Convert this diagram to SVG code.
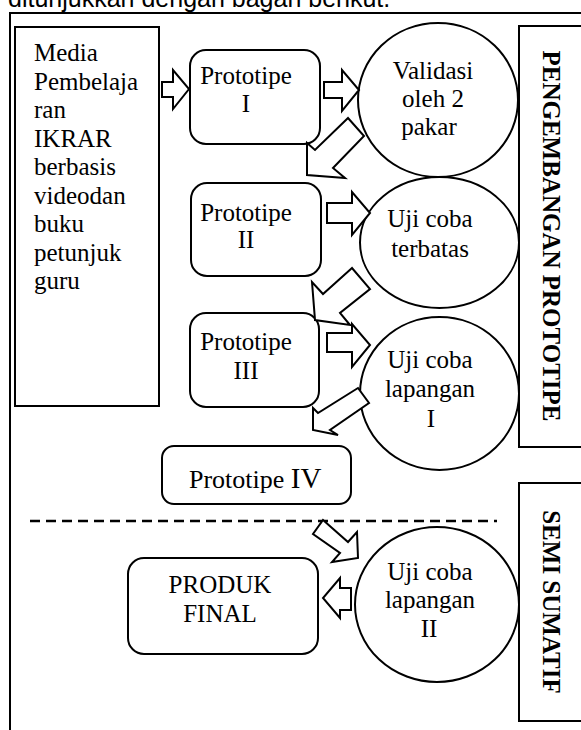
<svg xmlns="http://www.w3.org/2000/svg" width="581" height="730" viewBox="0 0 581 730">
<style>
.b{fill:#fff;stroke:#000;stroke-width:2}
.t{font-family:"Liberation Serif","Times New Roman",serif;font-size:25px;fill:#000}
.c{text-anchor:middle}
.v{font-family:"Liberation Serif","Times New Roman",serif;font-size:25px;font-weight:bold;fill:#000;text-anchor:middle}
.a{fill:#fff;stroke:#000;stroke-width:2;stroke-linejoin:miter}
</style>
<rect width="581" height="730" fill="#fff"/>
<text x="8" y="7" style="font-family:'Liberation Sans',Arial,sans-serif;font-size:25px">ditunjukkan dengan bagan berikut.</text>
<path d="M10,730 V13 H581" fill="none" stroke="#000" stroke-width="2"/>
<g id="media">
<rect class="b" x="15" y="27" width="144" height="379"/>
<text class="t" x="34" y="61">Media</text>
<text class="t" x="34" y="89.5">Pembelaja</text>
<text class="t" x="34" y="118">ran</text>
<text class="t" x="34" y="146.5">IKRAR</text>
<text class="t" x="34" y="175">berbasis</text>
<text class="t" x="34" y="203.5">videodan</text>
<text class="t" x="34" y="232">buku</text>
<text class="t" x="34" y="260.5">petunjuk</text>
<text class="t" x="34" y="289">guru</text>
</g>
<g id="proto1">
<rect class="b" x="190" y="50" width="130" height="94" rx="16"/>
<text class="t c" x="246" y="84">Prototipe</text>
<text class="t c" x="246" y="112">I</text>
</g>
<g id="proto2">
<rect class="b" x="191" y="183" width="130" height="93" rx="16"/>
<text class="t c" x="246" y="221">Prototipe</text>
<text class="t c" x="246" y="248">II</text>
</g>
<g id="proto3">
<rect class="b" x="190" y="313" width="129" height="94" rx="16"/>
<text class="t c" x="246" y="350">Prototipe</text>
<text class="t c" x="246" y="379">III</text>
</g>
<g id="proto4">
<rect class="b" x="162" y="446" width="189" height="58" rx="12"/>
<text class="t" x="189" y="488" style="font-size:26px">Prototipe <tspan style="font-size:29px">IV</tspan></text>
</g>
<g id="validasi">
<ellipse class="b" cx="438" cy="100" rx="80" ry="77"/>
<text class="t c" x="433" y="79">Validasi</text>
<text class="t c" x="433" y="107">oleh 2</text>
<text class="t c" x="429" y="135">pakar</text>
</g>
<g id="terbatas">
<ellipse class="b" cx="439.5" cy="242.5" rx="79.5" ry="65.5"/>
<text class="t c" x="430" y="227">Uji coba</text>
<text class="t c" x="430" y="257">terbatas</text>
</g>
<g id="lapangan1">
<ellipse class="b" cx="439.5" cy="393.5" rx="79.5" ry="76.5"/>
<text class="t c" x="430" y="368">Uji coba</text>
<text class="t c" x="430" y="397">lapangan</text>
<text class="t c" x="431" y="427">I</text>
</g>
<g id="lapangan2">
<ellipse class="b" cx="437" cy="604.5" rx="82" ry="77.5"/>
<text class="t c" x="430" y="580">Uji coba</text>
<text class="t c" x="430" y="608">lapangan</text>
<text class="t c" x="429" y="637">II</text>
</g>
<g id="produk">
<rect class="b" x="128" y="558" width="190" height="96" rx="16"/>
<text class="t c" x="220" y="593">PRODUK</text>
<text class="t c" x="220" y="622">FINAL</text>
</g>
<g id="pengembangan">
<rect class="b" x="519" y="26" width="70" height="421"/>
<text class="v" transform="translate(543,236) rotate(90)">PENGEMBANGAN PROTOTIPE</text>
</g>
<g id="semisumatif">
<rect class="b" x="519" y="483" width="70" height="238"/>
<text class="v" transform="translate(543,602) rotate(90)">SEMI SUMATIF</text>
</g>
<g id="connectors">
<line x1="30" y1="521" x2="497" y2="521" stroke="#000" stroke-width="2.5" stroke-dasharray="10 6"/>
<polygon class="a" points="162,82 173,82 173,70 189,89 173,109 173,97 162,97"/>
<polygon class="a" points="324,82 342,82 342,70 359,90 342,111 342,98 324,98"/>
<polygon class="a" points="348,118 315,150 307,143 307,175 345,178 333,168 364,136"/>
<polygon class="a" points="327,203 352,203 352,192 370,213 352,235 352,223 327,223"/>
<polygon class="a" points="352,268 323,294 312,282 315,320 350,325 340,313 370,289"/>
<polygon class="a" points="327,333 352,333 352,324 370,345 352,367 352,352 327,352"/>
<polygon class="a" points="358,388 318,413 313,408 313,430 338,435 330,430 369,403"/>
<polygon class="a" points="323,520 348,542 357,532 358,558 332,562 340,553 313,534"/>
<polygon class="a" points="351,588 340,588 340,578 323,598 340,618 340,610 351,610"/>
</g>
</svg>
